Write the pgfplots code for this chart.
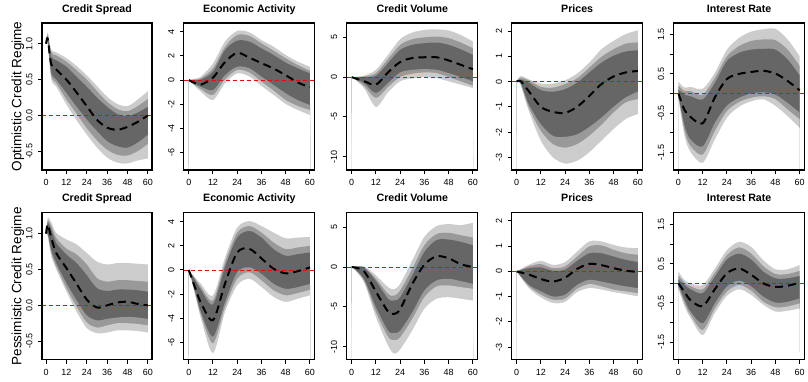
\documentclass[border=0pt]{standalone}
\usepackage{fontspec}
\setmainfont{Liberation Sans}
\usepackage{pgfplots}
\usepackage{pgfplotstable}
\pgfplotsset{compat=1.18}

\definecolor{cL}{HTML}{CCCCCC}
\definecolor{cM}{HTML}{999999}
\definecolor{cD}{HTML}{666666}
\definecolor{zred}{RGB}{255,0,0}

\pgfplotstableread{
x l3 l2 l1 m h1 h2 h3
0 1.0 1.0 1.0 1.0 1.0 1.0 1.0
1 0.98 1.0 1.02 1.07 1.1 1.13 1.16
3 0.5 0.55 0.6 0.72 0.82 0.88 0.92
6 0.4 0.45 0.5 0.64 0.77 0.84 0.88
12 0.15 0.22 0.31 0.5 0.68 0.75 0.8
18 -0.07 0.02 0.12 0.32 0.54 0.63 0.69
24 -0.27 -0.18 -0.06 0.13 0.4 0.5 0.56
30 -0.45 -0.35 -0.22 -0.06 0.25 0.34 0.41
36 -0.59 -0.48 -0.36 -0.17 0.12 0.19 0.26
42 -0.66 -0.55 -0.43 -0.2 0.02 0.09 0.16
48 -0.67 -0.56 -0.45 -0.16 -0.01 0.06 0.13
54 -0.63 -0.5 -0.38 -0.09 0.04 0.13 0.22
60 -0.6 -0.4 -0.27 0.0 0.12 0.23 0.34
}\tOCS
\pgfplotstableread{
x l3 l2 l1 m h1 h2 h3
0 0 0 0 0 0 0 0
3 -0.5 -0.4 -0.3 -0.25 0 0.05 0.12
6 -0.97 -0.77 -0.55 -0.38 0.05 0.14 0.28
12 -1.66 -1.24 -0.83 0.2 0.69 0.97 1.38
18 -0.28 0.05 0.41 1.5 2.49 2.76 3.2
24 0.55 0.83 1.1 2.25 3.26 3.73 4.06
30 0.28 0.61 0.97 1.85 3.18 3.65 3.95
36 -0.5 -0.14 0.28 1.4 2.62 3.04 3.3
42 -1.24 -0.88 -0.41 0.95 2.07 2.43 2.76
48 -1.99 -1.66 -1.1 0.4 1.44 1.8 2.07
54 -2.49 -2.15 -1.66 -0.2 0.97 1.24 1.52
60 -2.9 -2.49 -2.07 -0.6 0.55 0.77 1.1
}\tOEA
\pgfplotstableread{
x l3 l2 l1 m h1 h2 h3
0 0 0 0 0 0 0 0
6 -1.38 -1.09 -0.75 -0.5 0 0.08 0.17
12 -3.77 -2.64 -2.0 -0.95 0.17 0.5 0.92
18 -1.92 -1.26 -0.75 0.6 1.76 2.26 2.8
24 -0.54 0 0.59 1.9 3.43 4.06 4.77
30 -0.17 0.42 0.92 2.4 4.06 4.77 5.6
36 0 0.59 1.0 2.5 4.27 5.0 5.94
42 -0.13 0.5 0.92 2.5 4.35 5.1 6.0
48 -0.54 0 0.5 2.1 4.06 4.9 5.86
54 -0.96 -0.54 0 1.55 3.5 4.35 5.3
60 -1.38 -1.09 -0.54 1.0 2.8 3.64 4.48
}\tOCV
\pgfplotstableread{
x l3 l2 l1 m h1 h2 h3
0 0 0 0 0 0 0 0
2 -0.15 -0.1 -0.06 0.02 0.08 0.15 0.22
6 -1.16 -1.03 -0.9 -0.38 -0.04 0.05 0.09
12 -2.35 -1.96 -1.69 -1.0 -0.34 -0.21 -0.08
18 -3.01 -2.48 -2.15 -1.2 -0.4 -0.24 -0.08
24 -3.25 -2.62 -2.19 -1.24 -0.3 -0.1 0.05
30 -3.14 -2.48 -2.09 -1.0 -0.04 0.13 0.32
36 -2.81 -2.15 -1.8 -0.57 0.36 0.55 0.75
42 -2.35 -1.72 -1.43 -0.1 0.75 0.98 1.28
48 -1.89 -1.23 -1.0 0.2 1.02 1.28 1.61
54 -1.49 -0.83 -0.63 0.36 1.19 1.5 1.88
60 -1.29 -0.7 -0.4 0.42 1.24 1.55 2.03
}\tOPR
\pgfplotstableread{
x l3 l2 l1 m h1 h2 h3
0 -0.15 -0.1 -0.05 0 0.1 0.2 0.3
3 -1.09 -0.96 -0.83 -0.42 -0.03 0.06 0.15
6 -1.5 -1.35 -1.18 -0.6 -0.07 0.06 0.17
12 -1.77 -1.56 -1.35 -0.76 -0.15 -0.03 0.12
18 -1.18 -0.96 -0.75 -0.1 0.27 0.4 0.53
24 -0.62 -0.45 -0.31 0.37 0.83 0.95 1.12
30 -0.34 -0.22 -0.11 0.5 1.04 1.21 1.42
36 -0.2 -0.11 0 0.55 1.12 1.34 1.58
42 -0.15 -0.07 0.03 0.58 1.14 1.38 1.64
48 -0.32 -0.15 -0.03 0.51 1.12 1.36 1.65
54 -0.58 -0.41 -0.24 0.32 0.87 1.12 1.38
60 -0.88 -0.66 -0.49 0.08 0.46 0.7 0.95
}\tOIR
\pgfplotstableread{
x l3 l2 l1 m h1 h2 h3
0 1.0 1.0 1.0 1.0 1.0 1.0 1.0
1 0.96 0.98 1.0 1.13 1.15 1.18 1.22
3 0.69 0.73 0.78 0.95 1.06 1.11 1.16
6 0.5 0.54 0.59 0.73 0.87 0.94 1.01
12 0.19 0.24 0.31 0.52 0.71 0.79 0.92
18 -0.09 -0.02 0.07 0.3 0.59 0.71 0.85
24 -0.32 -0.24 -0.14 0.08 0.42 0.57 0.73
30 -0.39 -0.31 -0.21 -0.03 0.24 0.38 0.61
36 -0.38 -0.28 -0.19 0.0 0.2 0.33 0.57
42 -0.35 -0.25 -0.17 0.04 0.22 0.35 0.59
48 -0.35 -0.25 -0.16 0.05 0.22 0.35 0.59
54 -0.36 -0.26 -0.17 0.02 0.21 0.34 0.58
60 -0.38 -0.28 -0.19 0.0 0.19 0.33 0.57
}\tPCS
\pgfplotstableread{
x l3 l2 l1 m h1 h2 h3
0 0 0 0 0 0 0 0
3 -2.0 -1.85 -1.7 -1.4 -0.8 -0.7 -0.6
6 -4.02 -3.74 -3.47 -2.7 -1.64 -1.42 -1.15
12 -6.89 -6.07 -5.52 -4.15 -2.84 -2.51 -2.1
18 -3.47 -3.06 -2.65 -1.1 0.27 0.63 1.04
24 -1.28 -0.74 -0.19 1.45 2.68 3.09 3.5
30 -0.74 -0.19 0.22 1.75 3.22 3.63 4.04
36 -1.42 -0.87 -0.33 0.95 2.68 3.09 3.63
42 -2.24 -1.69 -1.15 0.1 1.72 2.27 3.09
48 -2.65 -2.1 -1.56 -0.28 1.17 1.72 2.62
54 -2.38 -1.91 -1.42 -0.1 1.31 1.86 2.68
60 -2.1 -1.64 -1.15 0.22 1.45 1.99 2.73
}\tPEA
\pgfplotstableread{
x l3 l2 l1 m h1 h2 h3
0 0 0 0 0 0 0 0
6 -1.9 -1.69 -1.48 -0.5 -0.08 0 0.08
12 -6.33 -5.7 -5.06 -3.1 -1.77 -1.48 -1.05
18 -9.9 -8.78 -8.0 -5.6 -4.0 -3.38 -2.53
21 -10.9 -9.2 -8.3 -5.9 -4.2 -3.6 -2.8
24 -10.4 -8.86 -8.0 -5.3 -3.8 -2.95 -2.11
30 -8.0 -6.54 -5.7 -2.15 -1.05 -0.21 0.84
36 -5.27 -3.8 -2.95 0.3 1.9 2.74 3.8
42 -4.0 -2.45 -1.69 1.35 3.38 4.14 5.15
48 -3.8 -2.32 -1.48 1.1 3.46 4.3 5.4
54 -4.0 -2.53 -1.77 0.35 3.16 4.0 5.27
60 -4.22 -2.74 -2.11 0.0 2.74 3.71 5.57
}\tPCV
\pgfplotstableread{
x l3 l2 l1 m h1 h2 h3
0 0 0 0 0 0 0 0
6 -0.66 -0.59 -0.53 -0.12 0.13 0.2 0.26
12 -1.03 -0.92 -0.79 -0.3 0.16 0.29 0.42
18 -1.25 -1.12 -0.99 -0.4 0.03 0.13 0.26
24 -1.21 -1.08 -0.92 -0.25 0.07 0.2 0.37
30 -0.82 -0.69 -0.53 0.1 0.42 0.59 0.79
36 -0.66 -0.5 -0.33 0.3 0.72 0.99 1.19
42 -0.72 -0.59 -0.4 0.25 0.72 1.03 1.19
48 -0.82 -0.72 -0.5 0.13 0.59 0.86 1.05
54 -0.9 -0.79 -0.59 0.03 0.46 0.72 0.95
60 -0.99 -0.86 -0.66 -0.02 0.37 0.66 0.92
}\tPPR
\pgfplotstableread{
x l3 l2 l1 m h1 h2 h3
0 -0.15 -0.1 -0.05 0 0.1 0.2 0.3
3 -0.59 -0.51 -0.42 -0.22 -0.04 0.02 0.08
6 -0.89 -0.81 -0.72 -0.43 -0.15 -0.07 0
12 -1.32 -1.19 -1.02 -0.58 -0.25 -0.15 -0.04
18 -0.76 -0.64 -0.51 -0.15 0.17 0.27 0.38
24 -0.32 -0.21 -0.08 0.26 0.61 0.72 0.85
30 -0.15 -0.04 0.07 0.38 0.76 0.92 1.06
36 -0.3 -0.19 -0.08 0.22 0.61 0.76 0.93
42 -0.55 -0.47 -0.34 0.0 0.3 0.44 0.59
48 -0.72 -0.61 -0.49 -0.09 0.13 0.24 0.36
54 -0.7 -0.59 -0.47 -0.06 0.13 0.24 0.36
60 -0.64 -0.51 -0.38 0.02 0.19 0.32 0.47
}\tPIR

\pgfplotsset{
  irf/.style={
    scale only axis, clip=true, axis on top, axis lines=box,
    height=147bp,
    xmin=-2.4, xmax=62.4,
    xtick={0,12,24,36,48,60}, xticklabels={0,12,24,36,48,60},
    tick align=outside, tick pos=left,
    major tick length=4bp,
    tick style={color=black, draw=black, solid, line width=1pt},
    axis line style={color=black, draw=black, solid, line width=1.2pt},
    tick label style={font=\fontsize{9}{10}\selectfont, text=black},
    xticklabel style={yshift=-2bp},
    yticklabel style={rotate=90, anchor=south, yshift=2bp},
    title style={font=\fontsize{10.7}{12}\selectfont\bfseries, at={(0.5,1)}, anchor=base, yshift=5bp},
  },
  csy/.style={ymin=-0.76, ymax=1.29, ytick={-0.5,0,0.5,1}, yticklabels={-0.5,0.0,0.5,1.0}},
  eay/.style={ymin=-7.43, ymax=4.72, ytick={-6,-4,-2,0,2,4}, yticklabels={-6,-4,-2,0,2,4}},
  cvy/.style={ymin=-11.67, ymax=6.81, ytick={-10,-5,0,5}, yticklabels={-10,-5,0,5}},
  pry/.style={ymin=-3.5, ymax=2.32, ytick={-3,-2,-1,0,1,2}, yticklabels={-3,-2,-1,0,1,2}},
  iry/.style={ymin=-1.95, ymax=1.80, ytick={-1.5,-1,-0.5,0,0.5,1,1.5}, yticklabels={-1.5,,-0.5,,0.5,,1.5}},
}

% bands: each edge filled down to below the axis; outer-to-inner upper edges, then inner-to-outer lower edges
\newcommand{\band}[4]{%
  \addplot[color=#3, fill=#3, draw=none, smooth] table[x=x,y=#2]{#1} -- (axis cs:60+#4,-20) -- (axis cs:-#4,-20) -- cycle;
}
\newcommand{\irfplots}[1]{%
  \band{#1}{h3}{cL}{0}
  \band{#1}{h2}{cM}{0.05}
  \band{#1}{h1}{cD}{0.1}
  \band{#1}{l1}{cM}{0.15}
  \band{#1}{l2}{cL}{0.2}
  \band{#1}{l3}{white}{0.35}
  \addplot[color=zred, draw=zred, line width=0.8pt, dash pattern=on 4bp off 3bp] coordinates {(-2.4,0) (62.4,0)};
  \addplot[color=black, draw=black, line width=2pt, dash pattern=on 8bp off 5bp, smooth] table[x=x,y=m]{#1};
}

\begin{document}
\begin{tikzpicture}
\path (0,0) rectangle (808bp,-382bp);

\begin{axis}[irf, csy, width=110bp, at={(42bp,-23bp)}, anchor=north west, title={Credit Spread}]
\irfplots{\tOCS}
\end{axis}
\begin{axis}[irf, eay, width=131bp, at={(184bp,-23bp)}, anchor=north west, title={Economic Activity}]
\irfplots{\tOEA}
\end{axis}
\begin{axis}[irf, cvy, width=131bp, at={(347bp,-23bp)}, anchor=north west, title={Credit Volume}]
\irfplots{\tOCV}
\end{axis}
\begin{axis}[irf, pry, width=131bp, at={(512bp,-23bp)}, anchor=north west, title={Prices}]
\irfplots{\tOPR}
\end{axis}
\begin{axis}[irf, iry, width=131bp, at={(674bp,-23bp)}, anchor=north west, title={Interest Rate}]
\irfplots{\tOIR}
\end{axis}

\begin{axis}[irf, csy, width=110bp, at={(42bp,-213bp)}, anchor=north west, title={Credit Spread}]
\irfplots{\tPCS}
\end{axis}
\begin{axis}[irf, eay, width=131bp, at={(184bp,-213bp)}, anchor=north west, title={Economic Activity}]
\irfplots{\tPEA}
\end{axis}
\begin{axis}[irf, cvy, width=131bp, at={(347bp,-213bp)}, anchor=north west, title={Credit Volume}]
\irfplots{\tPCV}
\end{axis}
\begin{axis}[irf, pry, width=131bp, at={(512bp,-213bp)}, anchor=north west, title={Prices}]
\irfplots{\tPPR}
\end{axis}
\begin{axis}[irf, iry, width=131bp, at={(674bp,-213bp)}, anchor=north west, title={Interest Rate}]
\irfplots{\tPIR}
\end{axis}

\node[rotate=90, anchor=base, font=\fontsize{13.6}{15}\selectfont] at (21.5bp,-96.5bp) {Optimistic Credit Regime};
\node[rotate=90, anchor=base, font=\fontsize{13.6}{15}\selectfont] at (21.5bp,-286.5bp) {Pessimistic Credit Regime};
\end{tikzpicture}
\end{document}
